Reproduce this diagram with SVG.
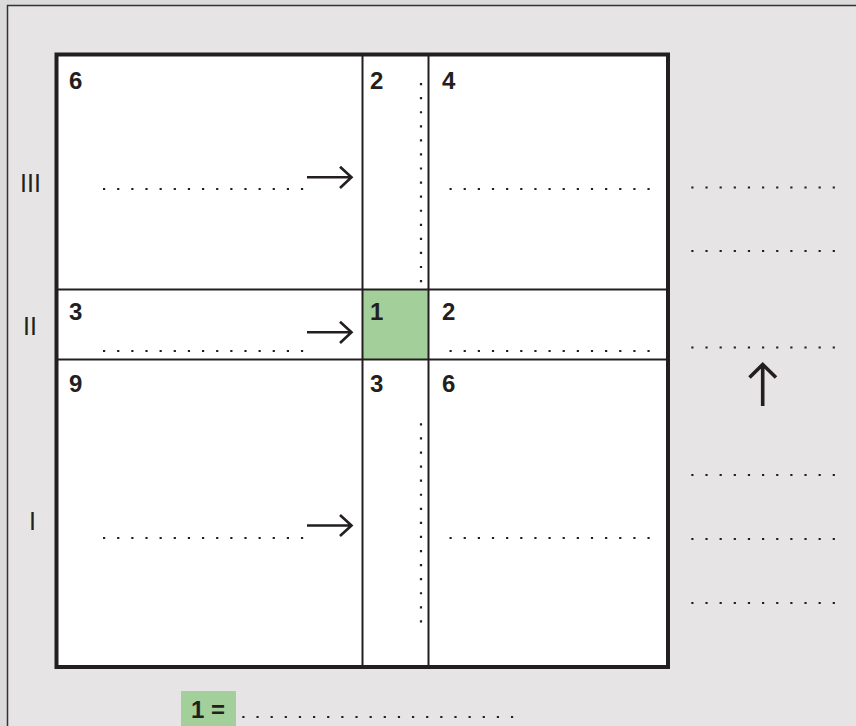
<svg xmlns="http://www.w3.org/2000/svg" width="856" height="726" viewBox="0 0 856 726">
<style>
.num{font-family:"Liberation Sans",Arial,sans-serif;font-weight:bold;font-size:24px;fill:#231f20}
.rom{font-family:"Liberation Sans",Arial,sans-serif;font-size:25px;fill:#231f20}
.dots{stroke:#231f20;stroke-width:2.2;stroke-dasharray:2.2 11.94;fill:none}
.vd{stroke:#231f20;stroke-width:2.2;stroke-dasharray:2.2 11.87;fill:none}
.thin{stroke:#231f20;stroke-width:2;fill:none}
.arr{stroke:#231f20;stroke-width:2.6;fill:none;stroke-linecap:butt}
</style>
<rect x="0" y="0" width="856" height="726" fill="#dcdbdc"/>
<rect x="7.5" y="5.5" width="870" height="740" fill="#e6e4e5" stroke="#333" stroke-width="1.5"/>
<g id="grid">
<rect x="56.5" y="54.5" width="611.5" height="612.5" fill="#fff"/>
<rect id="cell-1" x="362.5" y="289.5" width="66" height="70" fill="#a3d09a"/>
<line class="thin" x1="362.5" y1="54" x2="362.5" y2="667"/>
<line class="thin" x1="428.5" y1="54" x2="428.5" y2="667"/>
<line class="thin" x1="56" y1="289.5" x2="668" y2="289.5"/>
<line class="thin" x1="56" y1="359.5" x2="668" y2="359.5"/>
<rect x="56.5" y="54.5" width="611.5" height="612.5" fill="none" stroke="#231f20" stroke-width="4"/>
</g>
<g id="labels">
<text class="num" x="69" y="89">6</text>
<text class="num" x="370" y="89">2</text>
<text class="num" x="442" y="89">4</text>
<text class="num" x="69" y="320">3</text>
<text class="num" x="370" y="320">1</text>
<text class="num" x="442" y="320">2</text>
<text class="num" x="69" y="392">9</text>
<text class="num" x="370" y="392">3</text>
<text class="num" x="442" y="392">6</text>
<text class="rom" x="20" y="192">III</text>
<text class="rom" x="23" y="335">II</text>
<text class="rom" x="29" y="530">I</text>
</g>
<g id="dotted">
<line class="dots" x1="103" y1="189" x2="304" y2="189"/>
<line class="dots" x1="449.5" y1="189" x2="650" y2="189"/>
<line class="dots" x1="103" y1="351" x2="304" y2="351"/>
<line class="dots" x1="449.5" y1="351" x2="650" y2="351"/>
<line class="dots" x1="103" y1="538" x2="304" y2="538"/>
<line class="dots" x1="449.5" y1="538" x2="650" y2="538"/>
<line class="dots" x1="691.3" y1="187.5" x2="836" y2="187.5"/>
<line class="dots" x1="691.3" y1="251" x2="836" y2="251"/>
<line class="dots" x1="691.3" y1="347.5" x2="836" y2="347.5"/>
<line class="dots" x1="691.3" y1="475" x2="836" y2="475"/>
<line class="dots" x1="691.3" y1="539" x2="836" y2="539"/>
<line class="dots" x1="691.3" y1="603" x2="836" y2="603"/>
<line class="vd" x1="421" y1="83" x2="421" y2="283"/>
<line class="vd" x1="421" y1="423.3" x2="421" y2="623"/>
</g>
<g id="connectors">
<path class="arr" d="M307 177.3H351.5M340 166.7L351.5 177.3L340 188"/>
<path class="arr" d="M307 332.3H351.5M340 321.7L351.5 332.3L340 343"/>
<path class="arr" d="M307 525.5H351.5M340 515L351.5 525.5L340 536"/>
<path d="M762.7 406V364M749.5 377.5L762.7 364.5L776 377.5" stroke="#231f20" stroke-width="3.6" fill="none"/>
</g>
<g id="legend">
<rect x="181" y="691" width="55" height="40" fill="#a3d09a"/>
<text class="num" x="191" y="718" font-size="21">1 =</text>
<line class="dots" x1="242.3" y1="717" x2="514" y2="717"/>
</g>
</svg>
